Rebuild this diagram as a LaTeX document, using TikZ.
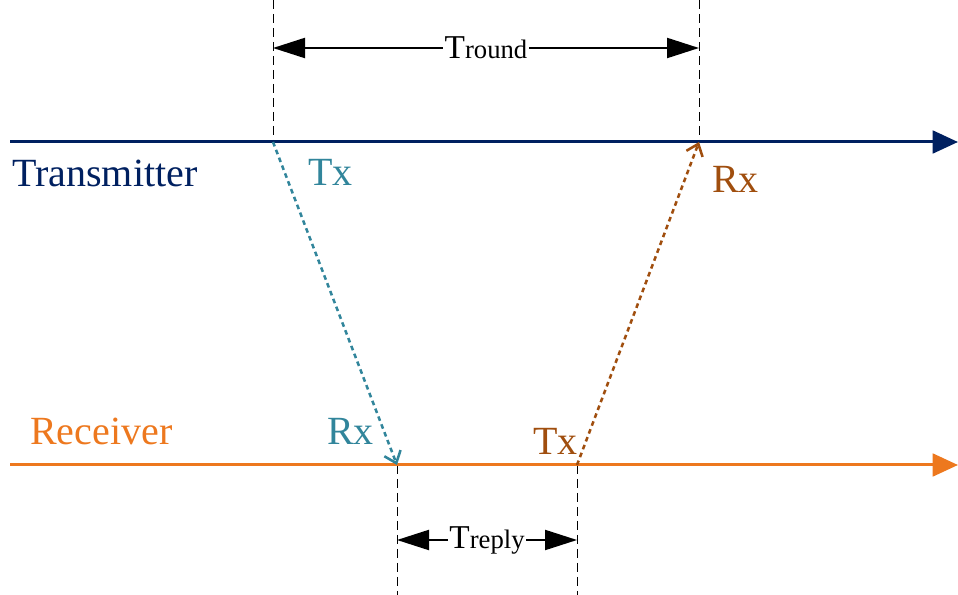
\documentclass[tikz,border=0pt]{standalone}
\usepackage{fontspec}
\setmainfont{Liberation Serif}
\usetikzlibrary{arrows.meta}
\definecolor{navyline}{RGB}{0,32,96}
\definecolor{tealsig}{RGB}{49,133,155}
\definecolor{orangeline}{RGB}{237,120,30}
\definecolor{brownsig}{RGB}{160,78,14}

\begin{document}
\begin{tikzpicture}[x=0.75pt,y=0.75pt,yscale=-1,xscale=1,
  timeline/.style={line width=2.25pt,-{Triangle[length=19pt,width=17pt]}},
  guide/.style={line width=0.75pt,dash pattern=on 6.5pt off 4pt},
  signal/.style={line width=1.9pt,dash pattern=on 3.5pt off 2.8pt,
    -{Straight Barb[length=8pt,width=13pt,line width=1.9pt,sep=0pt]}},
  span/.style={line width=1.6pt,{Triangle[length=24pt,width=15pt]}-{Triangle[length=24pt,width=15pt]}},
  biglabel/.style={anchor=base west,inner sep=0pt,font=\fontsize{30}{36}\selectfont}]
\useasboundingbox (0,0) rectangle (958,595);

% event points
\coordinate (txstart) at (10,142);
\coordinate (txend) at (958,142);
\coordinate (rxstart) at (10,465);
\coordinate (rxend) at (958,465);
\coordinate (send) at (273,142);
\coordinate (echo) at (699,142);
\coordinate (arrive) at (397,465);
\coordinate (reply) at (577,465);
\coordinate (sendtop) at (273,0);
\coordinate (echotop) at (699,0);
\coordinate (arrivebot) at (397,595);
\coordinate (replybot) at (577,595);

% Dashed guides
\draw[guide] (sendtop) -- (send);
\draw[guide] (echotop) -- (echo);
\draw[guide] (arrive) -- (arrivebot);
\draw[guide] (reply) -- (replybot);

% Time spans
\coordinate (roundl) at (273,48);
\coordinate (roundr) at (699,48);
\coordinate (replyl) at (397,540);
\coordinate (replyr) at (577,540);
\draw[span] (roundl) -- node[fill=white,inner sep=1pt] (troundlabel) {\fontsize{25}{30}\selectfont T\fontsize{20}{24}\selectfont round} (roundr);
\draw[span] (replyl) -- node[fill=white,inner sep=1pt] (treplylabel) {\fontsize{25}{30}\selectfont T\fontsize{20}{24}\selectfont reply} (replyr);

% Time lines
\draw[timeline,navyline] (txstart) -- (txend);
\draw[timeline,orangeline] (rxstart) -- (rxend);

% Signals
\draw[signal,tealsig] (send) -- (arrive);
\draw[signal,brownsig] (reply) -- (echo);

% Text Node
\node[biglabel,navyline] (transmitter) at (12,187) {Transmitter};
% Text Node
\node[biglabel,orangeline] (receiver) at (30,445) {Receiver};
% Text Node
\node[biglabel,tealsig] (txsend) at (308,186) {Tx};
% Text Node
\node[biglabel,tealsig] (rxarrive) at (327,445) {Rx};
% Text Node
\node[biglabel,brownsig] (txreply) at (533,455) {Tx};
% Text Node
\node[biglabel,brownsig] (rxecho) at (712,193) {Rx};

\end{tikzpicture}
\end{document}
